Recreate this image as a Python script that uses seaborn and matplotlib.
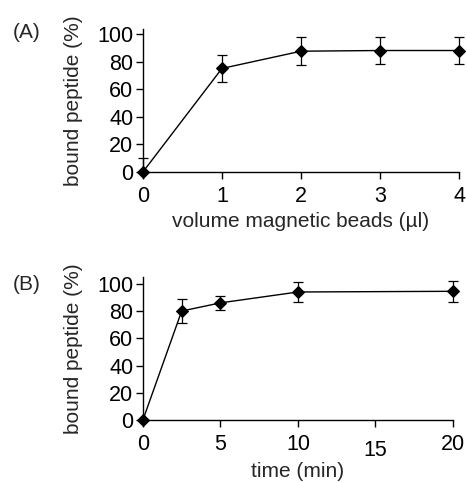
import numpy as np
import pandas as pd
import matplotlib
matplotlib.use("Agg")
import matplotlib.pyplot as plt
import seaborn as sns

# Panel A: binding vs. bead volume
volume_ul = [0, 1, 2, 3, 4]
bound_a = [0, 75, 87.5, 88, 88]
err_a = [10, 10, 10, 10, 10]

# Panel B: binding vs. incubation time
time_min = [0, 2.5, 5, 10, 20]
bound_b = [0, 80, 86, 94, 94.5]
err_b = [0, 9, 5, 7, 7.5]

sns.set_theme(style="ticks")
plt.rcParams['font.family'] = ['Liberation Sans', 'DejaVu Sans']

fig = plt.figure(figsize=(4.67, 4.83), dpi=100)
ax_a = fig.add_axes([0.306, 0.644, 0.677, 0.296])
ax_b = fig.add_axes([0.306, 0.1304, 0.664, 0.2961])


def draw_panel(ax, x, y, err, lower_err):
    df = pd.DataFrame({'x': x, 'y': y})
    sns.lineplot(data=df, x='x', y='y', ax=ax, color='black', linewidth=1.0,
                 marker='D', markersize=6.5, markeredgecolor='black', clip_on=False)
    ax.errorbar(x, y, yerr=[lower_err, err], fmt='none', ecolor='black',
                elinewidth=0.9, capsize=3.5, capthick=0.9, clip_on=False)
    for side in ['top', 'right']:
        ax.spines[side].set_visible(False)
    for side in ['left', 'bottom']:
        ax.spines[side].set_linewidth(1.0)
        ax.spines[side].set_color('black')
    ax.tick_params(axis='both', direction='out', length=5, width=1.0,
                   colors='black', labelsize=15.5)
    ax.tick_params(axis='y', pad=2)
    ax.tick_params(axis='x', pad=5)
    ax.set_yticks([0, 20, 40, 60, 80, 100])
    ax.set_ylabel('bound peptide (%)', fontsize=15, labelpad=10)


# (A)
lower_a = [0] + err_a[1:]
draw_panel(ax_a, volume_ul, bound_a, err_a, lower_a)
ax_a.set_xlim(0, 4)
ax_a.set_ylim(0, 103.6)
ax_a.set_xticks([0, 1, 2, 3, 4])
ax_a.set_xlabel('volume magnetic beads (\u00b5l)', fontsize=15, labelpad=4)
fig.text(0.028, 0.932, '(A)', fontsize=15, va='center', ha='left')

# (B)
draw_panel(ax_b, time_min, bound_b, err_b, err_b)
ax_b.set_xlim(0, 20)
ax_b.set_ylim(0, 105)
ax_b.set_xticks([0, 5, 10, 15, 20])
ax_b.set_xlabel('time (min)', fontsize=15, labelpad=1)
for lab in ax_b.get_xticklabels():
    if lab.get_text() == '15':
        lab.set_y(-0.042)
fig.text(0.028, 0.41, '(B)', fontsize=15, va='center', ha='left')

fig.savefig('out.png', dpi=100)
